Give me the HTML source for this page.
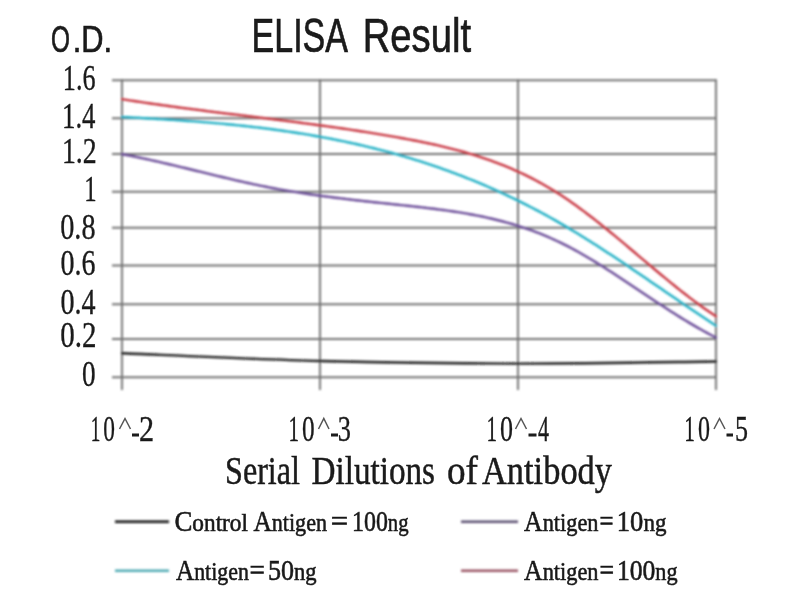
<!DOCTYPE html>
<html><head><meta charset="utf-8"><title>ELISA Result</title><style>
html,body{margin:0;padding:0;background:#fff;width:800px;height:600px;overflow:hidden}
svg{display:block}
</style></head><body>
<svg width="800" height="600" viewBox="0 0 800 600">
<defs><filter id="bl" x="0" y="0" width="800" height="600" filterUnits="userSpaceOnUse"><feGaussianBlur stdDeviation="0.8"/></filter><filter id="bt" x="0" y="0" width="800" height="600" filterUnits="userSpaceOnUse"><feGaussianBlur stdDeviation="0.6"/></filter></defs><rect width="800" height="600" fill="#fff"/>
<g filter="url(#bl)"><g stroke="#727272" stroke-width="1.9" fill="none"><line x1="112" y1="80.20" x2="716" y2="80.20"/><line x1="112" y1="118.30" x2="716" y2="118.30"/><line x1="112" y1="154.00" x2="716" y2="154.00"/><line x1="112" y1="191.80" x2="716" y2="191.80"/><line x1="112" y1="227.80" x2="716" y2="227.80"/><line x1="112" y1="265.50" x2="716" y2="265.50"/><line x1="112" y1="304.30" x2="716" y2="304.30"/><line x1="112" y1="339.00" x2="716" y2="339.00"/><line x1="112" y1="377.30" x2="716" y2="377.30"/><line x1="122" y1="79.2" x2="122" y2="390"/><line x1="320" y1="79.2" x2="320" y2="390"/><line x1="518" y1="79.2" x2="518" y2="390"/><line x1="716" y1="79.2" x2="716" y2="390"/></g>
<g fill="none" stroke-width="2.4" stroke-linecap="round" stroke-linejoin="round"><path d="M122.00,353.30 C155.00,354.58 254.00,359.28 320.00,361.00 C386.00,362.72 452.00,363.52 518.00,363.60 C584.00,363.68 683.00,361.85 716.00,361.50" stroke="#1a1a1a"/><path d="M122.0,154.21 L125.0,154.77 L128.0,155.34 L131.0,155.92 L134.0,156.52 L137.0,157.13 L140.0,157.75 L143.0,158.38 L146.0,159.02 L149.0,159.67 L152.0,160.33 L155.0,161.00 L158.0,161.68 L161.0,162.36 L164.0,163.05 L167.0,163.75 L170.0,164.46 L173.0,165.16 L176.0,165.88 L179.0,166.59 L182.0,167.31 L185.0,168.04 L188.0,168.77 L191.0,169.49 L194.0,170.22 L197.0,170.96 L200.0,171.69 L203.0,172.42 L206.0,173.15 L209.0,173.88 L212.0,174.61 L215.0,175.33 L218.0,176.05 L221.0,176.77 L224.0,177.49 L227.0,178.20 L230.0,178.90 L233.0,179.60 L236.0,180.30 L239.0,180.99 L242.0,181.67 L245.0,182.34 L248.0,183.00 L251.0,183.66 L254.0,184.31 L257.0,184.94 L260.0,185.57 L263.0,186.18 L266.0,186.79 L269.0,187.38 L272.0,187.96 L275.0,188.52 L278.0,189.08 L281.0,189.62 L284.0,190.15 L287.0,190.67 L290.0,191.18 L293.0,191.68 L296.0,192.16 L299.0,192.64 L302.0,193.11 L305.0,193.56 L308.0,194.01 L311.0,194.45 L314.0,194.88 L317.0,195.31 L320.0,195.72 L323.0,196.13 L326.0,196.53 L329.0,196.92 L332.0,197.31 L335.0,197.69 L338.0,198.06 L341.0,198.43 L344.0,198.80 L347.0,199.15 L350.0,199.51 L353.0,199.86 L356.0,200.20 L359.0,200.54 L362.0,200.88 L365.0,201.21 L368.0,201.54 L371.0,201.87 L374.0,202.20 L377.0,202.52 L380.0,202.84 L383.0,203.16 L386.0,203.48 L389.0,203.80 L392.0,204.12 L395.0,204.44 L398.0,204.76 L401.0,205.07 L404.0,205.39 L407.0,205.71 L410.0,206.04 L413.0,206.37 L416.0,206.70 L419.0,207.03 L422.0,207.37 L425.0,207.72 L428.0,208.08 L431.0,208.44 L434.0,208.81 L437.0,209.19 L440.0,209.58 L443.0,209.98 L446.0,210.40 L449.0,210.82 L452.0,211.26 L455.0,211.71 L458.0,212.18 L461.0,212.67 L464.0,213.17 L467.0,213.68 L470.0,214.22 L473.0,214.77 L476.0,215.34 L479.0,215.94 L482.0,216.55 L485.0,217.19 L488.0,217.84 L491.0,218.53 L494.0,219.23 L497.0,219.96 L500.0,220.72 L503.0,221.50 L506.0,222.31 L509.0,223.15 L512.0,224.02 L515.0,224.91 L518.0,225.84 L521.0,226.79 L524.0,227.78 L527.0,228.80 L530.0,229.86 L533.0,230.95 L536.0,232.07 L539.0,233.23 L542.0,234.43 L545.0,235.66 L548.0,236.93 L551.0,238.24 L554.0,239.59 L557.0,240.98 L560.0,242.41 L563.0,243.88 L566.0,245.39 L569.0,246.94 L572.0,248.53 L575.0,250.15 L578.0,251.81 L581.0,253.50 L584.0,255.22 L587.0,256.97 L590.0,258.74 L593.0,260.55 L596.0,262.38 L599.0,264.23 L602.0,266.10 L605.0,267.99 L608.0,269.90 L611.0,271.83 L614.0,273.77 L617.0,275.72 L620.0,277.69 L623.0,279.67 L626.0,281.66 L629.0,283.65 L632.0,285.65 L635.0,287.65 L638.0,289.66 L641.0,291.66 L644.0,293.67 L647.0,295.67 L650.0,297.67 L653.0,299.67 L656.0,301.66 L659.0,303.64 L662.0,305.61 L665.0,307.56 L668.0,309.51 L671.0,311.44 L674.0,313.35 L677.0,315.25 L680.0,317.12 L683.0,318.98 L686.0,320.81 L689.0,322.62 L692.0,324.40 L695.0,326.16 L698.0,327.88 L701.0,329.58 L704.0,331.24 L707.0,332.87 L710.0,334.47 L713.0,336.02 L716.0,337.54" stroke="#6a4c98"/><path d="M122.0,116.98 L125.0,117.13 L128.0,117.29 L131.0,117.44 L134.0,117.60 L137.0,117.76 L140.0,117.92 L143.0,118.09 L146.0,118.26 L149.0,118.43 L152.0,118.60 L155.0,118.77 L158.0,118.95 L161.0,119.14 L164.0,119.32 L167.0,119.51 L170.0,119.70 L173.0,119.90 L176.0,120.10 L179.0,120.30 L182.0,120.51 L185.0,120.72 L188.0,120.94 L191.0,121.16 L194.0,121.39 L197.0,121.62 L200.0,121.85 L203.0,122.09 L206.0,122.34 L209.0,122.59 L212.0,122.85 L215.0,123.11 L218.0,123.38 L221.0,123.65 L224.0,123.93 L227.0,124.21 L230.0,124.50 L233.0,124.80 L236.0,125.11 L239.0,125.42 L242.0,125.73 L245.0,126.06 L248.0,126.39 L251.0,126.73 L254.0,127.07 L257.0,127.43 L260.0,127.79 L263.0,128.16 L266.0,128.53 L269.0,128.91 L272.0,129.31 L275.0,129.71 L278.0,130.11 L281.0,130.53 L284.0,130.95 L287.0,131.39 L290.0,131.83 L293.0,132.28 L296.0,132.74 L299.0,133.21 L302.0,133.69 L305.0,134.18 L308.0,134.67 L311.0,135.18 L314.0,135.70 L317.0,136.23 L320.0,136.76 L323.0,137.31 L326.0,137.87 L329.0,138.43 L332.0,139.01 L335.0,139.60 L338.0,140.20 L341.0,140.81 L344.0,141.44 L347.0,142.07 L350.0,142.71 L353.0,143.37 L356.0,144.04 L359.0,144.72 L362.0,145.41 L365.0,146.11 L368.0,146.83 L371.0,147.55 L374.0,148.29 L377.0,149.05 L380.0,149.81 L383.0,150.59 L386.0,151.38 L389.0,152.19 L392.0,153.00 L395.0,153.83 L398.0,154.68 L401.0,155.53 L404.0,156.41 L407.0,157.29 L410.0,158.19 L413.0,159.10 L416.0,160.03 L419.0,160.97 L422.0,161.92 L425.0,162.89 L428.0,163.88 L431.0,164.88 L434.0,165.89 L437.0,166.92 L440.0,167.96 L443.0,169.02 L446.0,170.09 L449.0,171.18 L452.0,172.29 L455.0,173.40 L458.0,174.54 L461.0,175.69 L464.0,176.86 L467.0,178.04 L470.0,179.24 L473.0,180.45 L476.0,181.68 L479.0,182.93 L482.0,184.19 L485.0,185.47 L488.0,186.76 L491.0,188.08 L494.0,189.41 L497.0,190.75 L500.0,192.11 L503.0,193.49 L506.0,194.89 L509.0,196.31 L512.0,197.74 L515.0,199.19 L518.0,200.65 L521.0,202.14 L524.0,203.64 L527.0,205.16 L530.0,206.70 L533.0,208.26 L536.0,209.83 L539.0,211.42 L542.0,213.04 L545.0,214.67 L548.0,216.31 L551.0,217.98 L554.0,219.67 L557.0,221.37 L560.0,223.10 L563.0,224.84 L566.0,226.60 L569.0,228.38 L572.0,230.18 L575.0,231.99 L578.0,233.82 L581.0,235.67 L584.0,237.53 L587.0,239.40 L590.0,241.29 L593.0,243.20 L596.0,245.11 L599.0,247.04 L602.0,248.98 L605.0,250.93 L608.0,252.89 L611.0,254.86 L614.0,256.84 L617.0,258.83 L620.0,260.83 L623.0,262.84 L626.0,264.85 L629.0,266.87 L632.0,268.89 L635.0,270.92 L638.0,272.96 L641.0,275.00 L644.0,277.04 L647.0,279.09 L650.0,281.14 L653.0,283.19 L656.0,285.24 L659.0,287.29 L662.0,289.35 L665.0,291.40 L668.0,293.45 L671.0,295.50 L674.0,297.55 L677.0,299.60 L680.0,301.64 L683.0,303.68 L686.0,305.71 L689.0,307.74 L692.0,309.77 L695.0,311.78 L698.0,313.80 L701.0,315.80 L704.0,317.80 L707.0,319.79 L710.0,321.76 L713.0,323.73 L716.0,325.69" stroke="#1eafc4"/><path d="M122.0,99.15 L125.0,99.63 L128.0,100.10 L131.0,100.57 L134.0,101.03 L137.0,101.48 L140.0,101.93 L143.0,102.38 L146.0,102.82 L149.0,103.26 L152.0,103.70 L155.0,104.13 L158.0,104.55 L161.0,104.97 L164.0,105.39 L167.0,105.81 L170.0,106.22 L173.0,106.63 L176.0,107.03 L179.0,107.44 L182.0,107.84 L185.0,108.23 L188.0,108.63 L191.0,109.02 L194.0,109.41 L197.0,109.80 L200.0,110.18 L203.0,110.56 L206.0,110.94 L209.0,111.32 L212.0,111.70 L215.0,112.08 L218.0,112.45 L221.0,112.83 L224.0,113.20 L227.0,113.57 L230.0,113.94 L233.0,114.31 L236.0,114.68 L239.0,115.05 L242.0,115.42 L245.0,115.79 L248.0,116.16 L251.0,116.53 L254.0,116.90 L257.0,117.27 L260.0,117.64 L263.0,118.01 L266.0,118.38 L269.0,118.75 L272.0,119.13 L275.0,119.50 L278.0,119.88 L281.0,120.25 L284.0,120.63 L287.0,121.01 L290.0,121.40 L293.0,121.78 L296.0,122.17 L299.0,122.55 L302.0,122.95 L305.0,123.34 L308.0,123.73 L311.0,124.13 L314.0,124.53 L317.0,124.94 L320.0,125.35 L323.0,125.76 L326.0,126.17 L329.0,126.59 L332.0,127.01 L335.0,127.43 L338.0,127.86 L341.0,128.29 L344.0,128.73 L347.0,129.17 L350.0,129.62 L353.0,130.07 L356.0,130.52 L359.0,130.98 L362.0,131.44 L365.0,131.91 L368.0,132.39 L371.0,132.87 L374.0,133.35 L377.0,133.84 L380.0,134.34 L383.0,134.84 L386.0,135.35 L389.0,135.86 L392.0,136.38 L395.0,136.91 L398.0,137.44 L401.0,137.98 L404.0,138.53 L407.0,139.08 L410.0,139.64 L413.0,140.21 L416.0,140.80 L419.0,141.39 L422.0,141.99 L425.0,142.61 L428.0,143.23 L431.0,143.88 L434.0,144.53 L437.0,145.20 L440.0,145.89 L443.0,146.59 L446.0,147.31 L449.0,148.05 L452.0,148.81 L455.0,149.58 L458.0,150.38 L461.0,151.19 L464.0,152.03 L467.0,152.89 L470.0,153.78 L473.0,154.68 L476.0,155.62 L479.0,156.57 L482.0,157.56 L485.0,158.56 L488.0,159.60 L491.0,160.67 L494.0,161.76 L497.0,162.88 L500.0,164.04 L503.0,165.22 L506.0,166.44 L509.0,167.69 L512.0,168.97 L515.0,170.29 L518.0,171.64 L521.0,173.02 L524.0,174.45 L527.0,175.91 L530.0,177.40 L533.0,178.94 L536.0,180.51 L539.0,182.13 L542.0,183.78 L545.0,185.48 L548.0,187.22 L551.0,189.00 L554.0,190.82 L557.0,192.69 L560.0,194.61 L563.0,196.57 L566.0,198.57 L569.0,200.61 L572.0,202.70 L575.0,204.82 L578.0,206.99 L581.0,209.18 L584.0,211.41 L587.0,213.68 L590.0,215.97 L593.0,218.29 L596.0,220.63 L599.0,223.01 L602.0,225.40 L605.0,227.82 L608.0,230.25 L611.0,232.71 L614.0,235.18 L617.0,237.66 L620.0,240.16 L623.0,242.66 L626.0,245.18 L629.0,247.71 L632.0,250.24 L635.0,252.77 L638.0,255.31 L641.0,257.84 L644.0,260.38 L647.0,262.91 L650.0,265.44 L653.0,267.96 L656.0,270.47 L659.0,272.98 L662.0,275.47 L665.0,277.95 L668.0,280.41 L671.0,282.86 L674.0,285.28 L677.0,287.69 L680.0,290.08 L683.0,292.44 L686.0,294.77 L689.0,297.08 L692.0,299.36 L695.0,301.61 L698.0,303.83 L701.0,306.01 L704.0,308.15 L707.0,310.26 L710.0,312.33 L713.0,314.36 L716.0,316.34" stroke="#c8343f"/></g>
<g stroke-width="2.6"><line x1="115" y1="521.8" x2="169" y2="521.8" stroke="#0a0a0a"/><line x1="115" y1="570.7" x2="169" y2="570.7" stroke="#50aab4"/><line x1="461" y1="521.8" x2="518" y2="521.8" stroke="#5a4e70"/><line x1="461" y1="570.7" x2="518" y2="570.7" stroke="#9a5464"/></g></g>
<g filter="url(#bt)"><g fill="#1a1a1a"><text x="51.05" y="51.70" font-family='"Liberation Sans",sans-serif' font-size="37" textLength="18.95" lengthAdjust="spacingAndGlyphs" stroke="#1a1a1a" stroke-width="0.7">O</text><text x="72.81" y="51.70" font-family='"Liberation Sans",sans-serif' font-size="37" textLength="39.38" lengthAdjust="spacingAndGlyphs" stroke="#1a1a1a" stroke-width="0.7">.D.</text><text x="251.54" y="51.70" font-family='"Liberation Sans",sans-serif' font-size="49" textLength="96.46" lengthAdjust="spacingAndGlyphs" stroke="#1a1a1a" stroke-width="0.7">ELISA</text><text x="362.76" y="51.70" font-family='"Liberation Sans",sans-serif' font-size="49" textLength="108.24" lengthAdjust="spacingAndGlyphs" stroke="#1a1a1a" stroke-width="0.7">Result</text><text x="81.92" y="386.22" font-family='"Liberation Serif",serif' font-size="35" textLength="13.61" lengthAdjust="spacingAndGlyphs" stroke="#1a1a1a" stroke-width="0.35">0</text><text x="60.36" y="346.72" font-family='"Liberation Serif",serif' font-size="35" textLength="36.19" lengthAdjust="spacingAndGlyphs" stroke="#1a1a1a" stroke-width="0.35">0.2</text><text x="60.41" y="313.72" font-family='"Liberation Serif",serif' font-size="35" textLength="35.06" lengthAdjust="spacingAndGlyphs" stroke="#1a1a1a" stroke-width="0.35">0.4</text><text x="60.45" y="275.22" font-family='"Liberation Serif",serif' font-size="35" textLength="34.97" lengthAdjust="spacingAndGlyphs" stroke="#1a1a1a" stroke-width="0.35">0.6</text><text x="60.24" y="239.48" font-family='"Liberation Serif",serif' font-size="35" textLength="35.31" lengthAdjust="spacingAndGlyphs" stroke="#1a1a1a" stroke-width="0.35">0.8</text><text x="84.36" y="200.50" font-family='"Liberation Serif",serif' font-size="35" textLength="12.37" lengthAdjust="spacingAndGlyphs" stroke="#1a1a1a" stroke-width="0.35">1</text><text x="61.93" y="163.44" font-family='"Liberation Serif",serif' font-size="35" textLength="34.84" lengthAdjust="spacingAndGlyphs" stroke="#1a1a1a" stroke-width="0.35">1.2</text><text x="61.99" y="128.44" font-family='"Liberation Serif",serif' font-size="35" textLength="33.49" lengthAdjust="spacingAndGlyphs" stroke="#1a1a1a" stroke-width="0.35">1.4</text><text x="62.83" y="90.48" font-family='"Liberation Serif",serif' font-size="35" textLength="32.64" lengthAdjust="spacingAndGlyphs" stroke="#1a1a1a" stroke-width="0.35">1.6</text><text x="90.69" y="441.00" font-family='"Liberation Serif",serif' font-size="35" textLength="9.62" lengthAdjust="spacingAndGlyphs" stroke="#1a1a1a" stroke-width="0.35">1</text><text x="103.32" y="441.00" font-family='"Liberation Serif",serif' font-size="35" textLength="11.69" lengthAdjust="spacingAndGlyphs" stroke="#1a1a1a" stroke-width="0.35">0</text><text x="139.01" y="441.00" font-family='"Liberation Serif",serif' font-size="35" textLength="15.07" lengthAdjust="spacingAndGlyphs" stroke="#1a1a1a" stroke-width="0.35">2</text><text x="288.41" y="441.00" font-family='"Liberation Serif",serif' font-size="35" textLength="10.50" lengthAdjust="spacingAndGlyphs" stroke="#1a1a1a" stroke-width="0.35">1</text><text x="301.99" y="441.00" font-family='"Liberation Serif",serif' font-size="35" textLength="12.67" lengthAdjust="spacingAndGlyphs" stroke="#1a1a1a" stroke-width="0.35">0</text><text x="337.86" y="441.00" font-family='"Liberation Serif",serif' font-size="35" textLength="13.20" lengthAdjust="spacingAndGlyphs" stroke="#1a1a1a" stroke-width="0.35">3</text><text x="486.41" y="441.00" font-family='"Liberation Serif",serif' font-size="35" textLength="10.50" lengthAdjust="spacingAndGlyphs" stroke="#1a1a1a" stroke-width="0.35">1</text><text x="500.00" y="441.00" font-family='"Liberation Serif",serif' font-size="35" textLength="13.00" lengthAdjust="spacingAndGlyphs" stroke="#1a1a1a" stroke-width="0.35">0</text><text x="538.00" y="441.00" font-family='"Liberation Serif",serif' font-size="35" textLength="11.00" lengthAdjust="spacingAndGlyphs" stroke="#1a1a1a" stroke-width="0.35">4</text><text x="684.22" y="441.00" font-family='"Liberation Serif",serif' font-size="35" textLength="10.67" lengthAdjust="spacingAndGlyphs" stroke="#1a1a1a" stroke-width="0.35">1</text><text x="698.00" y="441.00" font-family='"Liberation Serif",serif' font-size="35" textLength="12.00" lengthAdjust="spacingAndGlyphs" stroke="#1a1a1a" stroke-width="0.35">0</text><text x="735.00" y="441.00" font-family='"Liberation Serif",serif' font-size="35" textLength="13.00" lengthAdjust="spacingAndGlyphs" stroke="#1a1a1a" stroke-width="0.35">5</text><text x="225.00" y="483.50" font-family='"Liberation Serif",serif' font-size="41" textLength="75.00" lengthAdjust="spacingAndGlyphs" stroke="#1a1a1a" stroke-width="0.5">Serial</text><text x="311.47" y="483.50" font-family='"Liberation Serif",serif' font-size="41" textLength="123.55" lengthAdjust="spacingAndGlyphs" stroke="#1a1a1a" stroke-width="0.5">Dilutions</text><text x="447.03" y="483.50" font-family='"Liberation Serif",serif' font-size="41" textLength="30.98" lengthAdjust="spacingAndGlyphs" stroke="#1a1a1a" stroke-width="0.5">of</text><text x="482.00" y="483.50" font-family='"Liberation Serif",serif' font-size="41" textLength="130.00" lengthAdjust="spacingAndGlyphs" stroke="#1a1a1a" stroke-width="0.5">Antibody</text><text x="174.44" y="530.70" font-family='"Liberation Serif",serif' font-size="26" textLength="73.56" lengthAdjust="spacingAndGlyphs" stroke="#1a1a1a" stroke-width="0.6"><tspan font-size="30">C</tspan>ontrol</text><text x="253.41" y="530.70" font-family='"Liberation Serif",serif' font-size="26" textLength="73.59" lengthAdjust="spacingAndGlyphs" stroke="#1a1a1a" stroke-width="0.6"><tspan font-size="30">A</tspan>ntigen</text><text x="330.82" y="530.70" font-family='"Liberation Serif",serif' font-size="26" textLength="17.38" lengthAdjust="spacingAndGlyphs" stroke="#1a1a1a" stroke-width="0.6"><tspan font-size="30">=</tspan></text><text x="351.98" y="530.70" font-family='"Liberation Serif",serif' font-size="26" textLength="56.57" lengthAdjust="spacingAndGlyphs" stroke="#1a1a1a" stroke-width="0.6"><tspan font-size="30">1</tspan><tspan font-size="30">0</tspan><tspan font-size="30">0</tspan>ng</text><text x="176.00" y="580.20" font-family='"Liberation Serif",serif' font-size="26" textLength="72.81" lengthAdjust="spacingAndGlyphs" stroke="#1a1a1a" stroke-width="0.6"><tspan font-size="30">A</tspan>ntigen</text><text x="249.58" y="580.20" font-family='"Liberation Serif",serif' font-size="26" textLength="15.39" lengthAdjust="spacingAndGlyphs" stroke="#1a1a1a" stroke-width="0.6"><tspan font-size="30">=</tspan></text><text x="267.90" y="580.20" font-family='"Liberation Serif",serif' font-size="26" textLength="48.68" lengthAdjust="spacingAndGlyphs" stroke="#1a1a1a" stroke-width="0.6"><tspan font-size="30">5</tspan><tspan font-size="30">0</tspan>ng</text><text x="524.00" y="530.50" font-family='"Liberation Serif",serif' font-size="26" textLength="74.52" lengthAdjust="spacingAndGlyphs" stroke="#1a1a1a" stroke-width="0.6"><tspan font-size="30">A</tspan>ntigen</text><text x="599.59" y="530.50" font-family='"Liberation Serif",serif' font-size="26" textLength="14.03" lengthAdjust="spacingAndGlyphs" stroke="#1a1a1a" stroke-width="0.6"><tspan font-size="30">=</tspan></text><text x="616.83" y="530.50" font-family='"Liberation Serif",serif' font-size="26" textLength="49.56" lengthAdjust="spacingAndGlyphs" stroke="#1a1a1a" stroke-width="0.6"><tspan font-size="30">1</tspan><tspan font-size="30">0</tspan>ng</text><text x="524.00" y="580.40" font-family='"Liberation Serif",serif' font-size="26" textLength="74.52" lengthAdjust="spacingAndGlyphs" stroke="#1a1a1a" stroke-width="0.6"><tspan font-size="30">A</tspan>ntigen</text><text x="599.56" y="580.40" font-family='"Liberation Serif",serif' font-size="26" textLength="14.55" lengthAdjust="spacingAndGlyphs" stroke="#1a1a1a" stroke-width="0.6"><tspan font-size="30">=</tspan></text><text x="616.89" y="580.40" font-family='"Liberation Serif",serif' font-size="26" textLength="60.64" lengthAdjust="spacingAndGlyphs" stroke="#1a1a1a" stroke-width="0.6"><tspan font-size="30">1</tspan><tspan font-size="30">0</tspan><tspan font-size="30">0</tspan>ng</text></g>
<path d="M119.5,429 L125.0,418.5 L130.5,429" fill="none" stroke="#555" stroke-width="1.5"/><rect x="132.0" y="433.5" width="7.0" height="3" fill="#1a1a1a"/><path d="M318.5,429 L323.8,418.5 L329.0,429" fill="none" stroke="#555" stroke-width="1.5"/><rect x="331.0" y="433.5" width="7.0" height="3" fill="#1a1a1a"/><path d="M515.5,429 L521.0,418.5 L526.5,429" fill="none" stroke="#555" stroke-width="1.5"/><rect x="528.5" y="433.5" width="8.0" height="3" fill="#1a1a1a"/><path d="M714.0,429 L719.5,418.5 L725.0,429" fill="none" stroke="#555" stroke-width="1.5"/><rect x="726.5" y="433.5" width="6.5" height="3" fill="#1a1a1a"/></g>
</svg>
</body></html>
